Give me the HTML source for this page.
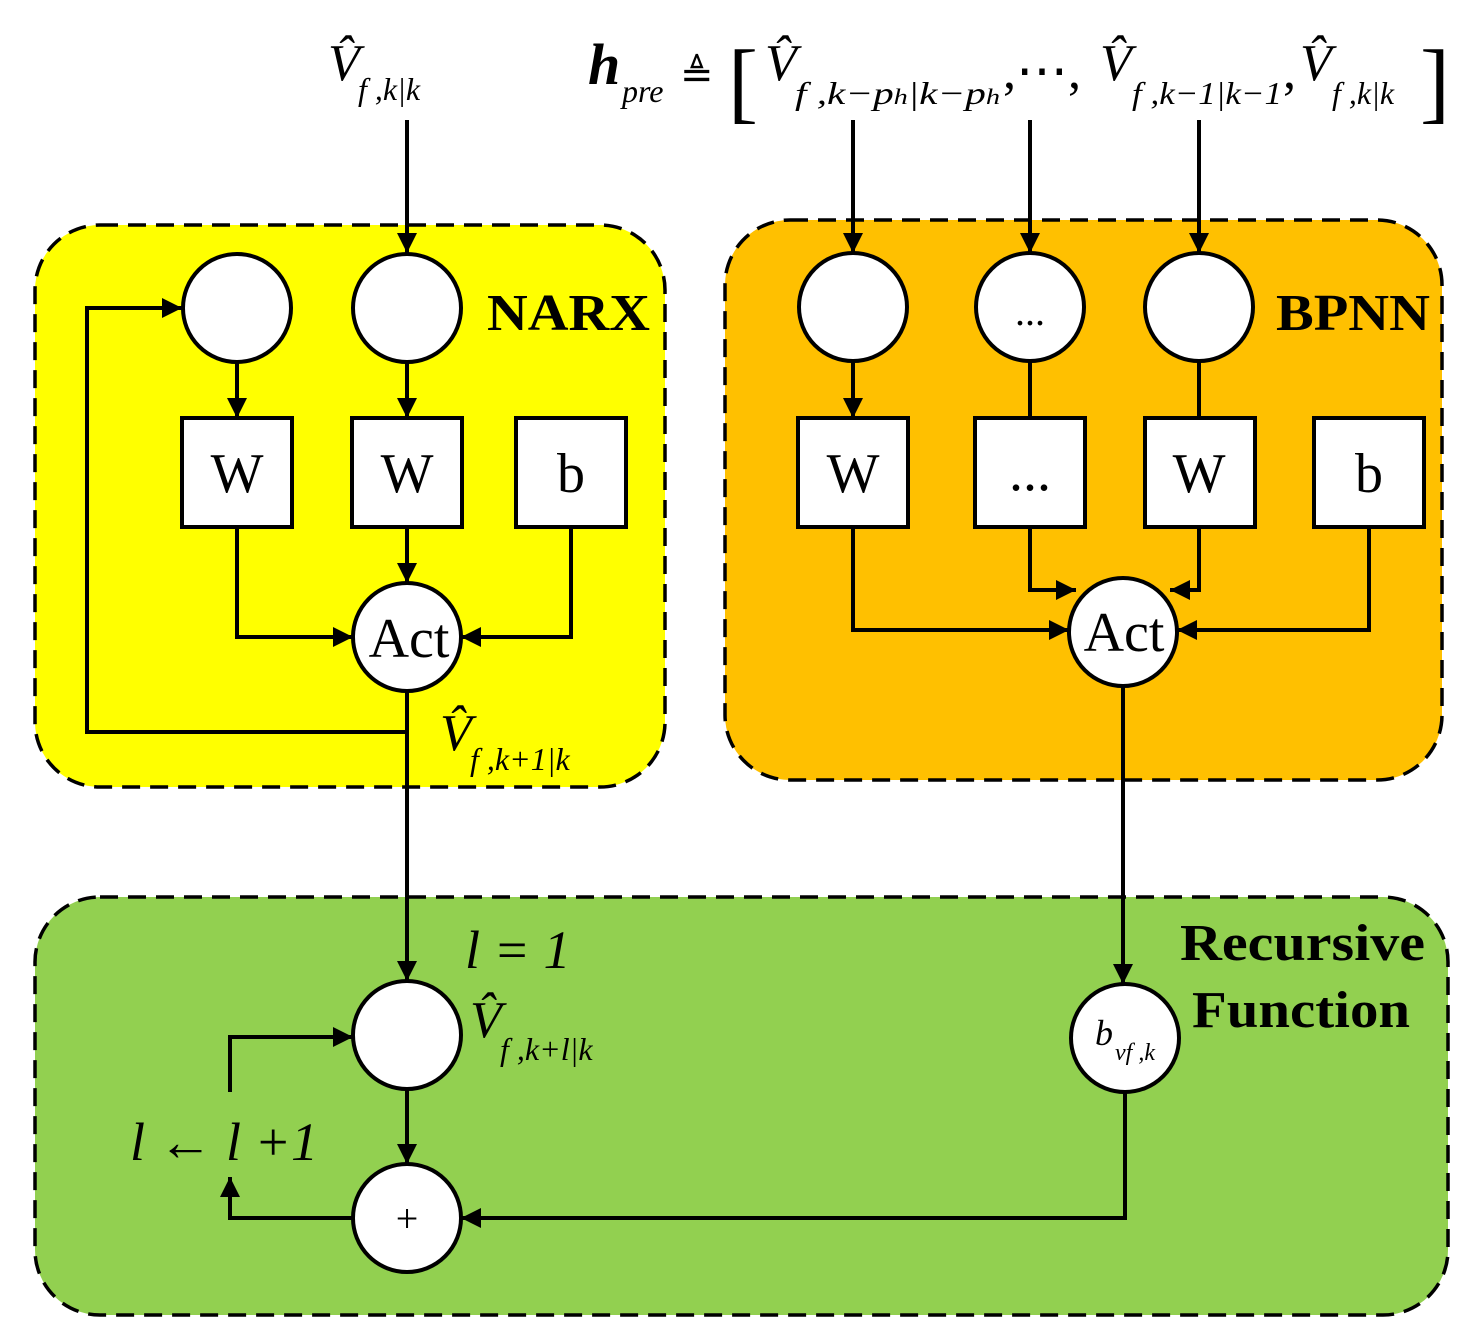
<!DOCTYPE html>
<html><head><meta charset="utf-8"><style>body{margin:0;background:#fff}</style></head><body>
<svg width="1469" height="1339" viewBox="0 0 1469 1339" xmlns="http://www.w3.org/2000/svg" font-family="Liberation Serif, serif">
<defs>
<marker id="a" viewBox="0 0 10 10" refX="10" refY="5" markerWidth="20" markerHeight="20" markerUnits="userSpaceOnUse" orient="auto"><path d="M0,0L10,5L0,10z" fill="#000"/></marker>
</defs>
<rect x="35" y="225" width="630" height="562" rx="65" fill="#ffff00" stroke="#000" stroke-width="3.5" stroke-dasharray="18,10"/>
<rect x="725" y="220" width="717" height="560" rx="65" fill="#ffc000" stroke="#000" stroke-width="3.5" stroke-dasharray="18,10"/>
<rect x="35" y="897" width="1413" height="418" rx="65" fill="#92d050" stroke="#000" stroke-width="3.5" stroke-dasharray="18,10"/>
<g stroke="#000" stroke-width="4" fill="none">
<path d="M407,120V253" marker-end="url(#a)"/>
<path d="M853,120V253" marker-end="url(#a)"/>
<path d="M1030,120V253" marker-end="url(#a)"/>
<path d="M1199,120V253" marker-end="url(#a)"/>
<path d="M407,732H87V308H182" marker-end="url(#a)"/>
<path d="M237,362V418" marker-end="url(#a)"/>
<path d="M407,362V418" marker-end="url(#a)"/>
<path d="M407,527V583" marker-end="url(#a)"/>
<path d="M237,527V637H353" marker-end="url(#a)"/>
<path d="M571,527V637H461" marker-end="url(#a)"/>
<path d="M407,691V981" marker-end="url(#a)"/>
<path d="M853,361V418" marker-end="url(#a)"/>
<path d="M1030,361V418M1199,361V418"/>
<path d="M853,527V630H1069" marker-end="url(#a)"/>
<path d="M1030,527V590H1076" marker-end="url(#a)"/>
<path d="M1199,527V590H1170" marker-end="url(#a)"/>
<path d="M1369,527V630H1177" marker-end="url(#a)"/>
<path d="M1123,686V984" marker-end="url(#a)"/>
<path d="M407,1089V1164" marker-end="url(#a)"/>
<path d="M1125,1092V1218H461" marker-end="url(#a)"/>
<path d="M353,1218H230V1177" marker-end="url(#a)"/>
<path d="M230,1092V1037H353" marker-end="url(#a)"/>
</g>
<g fill="#fff" stroke="#000" stroke-width="4">
<circle cx="237" cy="308" r="54"/><circle cx="407" cy="308" r="54"/>
<rect x="182" y="418" width="110" height="109"/><rect x="352" y="418" width="110" height="109"/><rect x="516" y="418" width="110" height="109"/>
<circle cx="407" cy="637" r="54"/>
<circle cx="853" cy="307" r="54"/><circle cx="1030" cy="307" r="54"/><circle cx="1199" cy="307" r="54"/>
<rect x="798" y="418" width="110" height="109"/><rect x="975" y="418" width="110" height="109"/><rect x="1145" y="418" width="110" height="109"/><rect x="1314" y="418" width="110" height="109"/>
<circle cx="1123" cy="632" r="54"/>
<circle cx="407" cy="1035" r="54"/><circle cx="407" cy="1218" r="54"/><circle cx="1125" cy="1038" r="54"/>
</g>
<g font-size="56" text-anchor="middle">
<text x="237" y="492">W</text><text x="407" y="492">W</text><text x="571" y="492">b</text>
<text x="853" y="492">W</text><text x="1030" y="490">...</text><text x="1199" y="492">W</text><text x="1369" y="492">b</text>
<text x="1030" y="325" font-size="40">...</text>
<text x="409" y="657">Act</text><text x="1124" y="651">Act</text>
<text x="407" y="1232" font-size="40">+</text>
</g>
<g font-weight="bold" font-size="52">
<text x="487" y="330" textLength="163" lengthAdjust="spacingAndGlyphs">NARX</text><text x="1276" y="330" textLength="154" lengthAdjust="spacingAndGlyphs">BPNN</text>
<text x="1180" y="960" textLength="245" lengthAdjust="spacingAndGlyphs">Recursive</text><text x="1192" y="1027" textLength="218" lengthAdjust="spacingAndGlyphs">Function</text>
</g>
<g font-style="italic" font-size="52">
<text x="328" y="80">V̂</text><text x="358" y="100" font-size="32">f ,k|k</text>
<text x="440" y="750">V̂</text><text x="470" y="770" font-size="32">f ,k+1|k</text>
<text x="470" y="1037">V̂</text><text x="500" y="1060" font-size="32">f ,k+l|k</text>
<text x="465" y="968" font-size="54">l = 1</text>
<text x="130" y="1160" font-size="54">l ← l +1</text>
<text x="1095" y="1045" font-size="36">b</text><text x="1115" y="1060" font-size="24">vf ,k</text>
<text x="588" y="84" font-weight="bold" font-size="58">h</text><text x="622" y="102" font-size="32">pre</text>
<text x="680" y="88" font-style="normal" font-size="40">≜</text>
<text x="728" y="112" font-style="normal" font-size="90">[</text>
<text x="765" y="80">V̂</text><text x="795" y="104" font-size="32" textLength="205" lengthAdjust="spacingAndGlyphs">f ,k−p<tspan font-size="22">h</tspan>|k−p<tspan font-size="22">h</tspan></text>
<text x="1003" y="88" font-style="normal">,⋯,</text>
<text x="1100" y="80">V̂</text><text x="1132" y="104" font-size="32" textLength="150" lengthAdjust="spacingAndGlyphs">f ,k−1|k−1</text>
<text x="1283" y="88" font-style="normal">,</text>
<text x="1300" y="80">V̂</text><text x="1332" y="104" font-size="32">f ,k|k</text>
<text x="1420" y="112" font-style="normal" font-size="90">]</text>
</g>
</svg>
</body></html>
